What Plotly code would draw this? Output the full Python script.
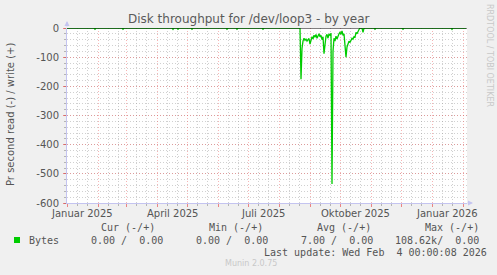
import pandas as pd
import plotly.graph_objects as go

# ---------------- data ----------------
period_start = "2025-01-01"
period_end = "2026-02-05"

# small isolated dips of the read rate (bytes/s), otherwise zero
dip_dates = ["2025-01-29", "2025-02-26", "2025-04-17", "2025-04-22", "2025-05-06",
             "2025-06-10", "2025-06-20", "2025-07-16", "2025-10-24", "2025-11-05",
             "2025-12-03", "2026-01-21"]
dip_values = [4, 4, 5, 4, 4, 4, 4, 4, 15, 4, 4, 5]

# busy period, daily read rate starting at burst_start
burst_start = "2025-08-22"
burst_values = [0, 176, 70, 45, 35, 42, 38, 45, 40, 36, 55, 40, 30, 38, 25, 32, 22, 35,
                28, 20, 30, 25, 40, 30, 88, 45, 28, 22, 35, 20, 25, 18, 535, 80, 35, 45,
                28, 38, 25, 20, 15, 22, 10, 25, 20, 60, 100, 65, 55, 45, 50, 40, 35, 38,
                30, 32, 15, 20, 10, 5, 0]

y_tick_vals = [0, -100, -200, -300, -400, -500, -600]
y_tick_text = ["0", "-100", "-200", "-300", "-400", "-500", "-600"]
x_label_dates = ["2025-01-16", "2025-04-16", "2025-07-16", "2025-10-16", "2026-01-16"]
x_label_text = ["Januar 2025", "April 2025", "Juli 2025", "Oktober 2025", "Januar 2026"]

legend_headers = ["Cur (-/+)", "Min (-/+)", "Avg (-/+)", "Max (-/+)"]
legend_values = ["0.00 /  0.00", "0.00 /  0.00", "7.00 /  0.00", "108.62k/  0.00"]
last_update = "Last update: Wed Feb  4 00:00:08 2026"

# ---------------- build series ----------------
days = pd.date_range("2025-01-01", "2026-02-04", freq="D")
read = pd.Series(0.0, index=days)
for d, v in zip(dip_dates, dip_values):
    read[pd.Timestamp(d)] = v
bidx = pd.date_range(burst_start, periods=len(burst_values), freq="D")
read[bidx] = burst_values

# ---------------- layout geometry ----------------
W, H = 497, 275
L, R, T, B = 67, 467, 28, 203


def px(x):
    return (x - L) / (R - L)


def py(y):
    return (B - y) / (B - T)


txt = "#555555"
font = "DejaVu Sans"
mono = "DejaVu Sans Mono"
nb = lambda s: s.replace(" ", "\u00a0")

red_grid = "rgba(235,90,90,0.45)"
gray_grid = "rgba(150,150,150,0.45)"

fig = go.Figure()
fig.add_trace(go.Scatter(x=read.index, y=-read.values, mode="lines",
                         line=dict(color="#00CC00", width=1.3), hoverinfo="skip",
                         showlegend=False))

month_starts = pd.date_range("2025-01-01", "2026-02-01", freq="MS")
minor_vals = []
for m in month_starts:
    for off in (10, 20):
        minor_vals.append(m + pd.Timedelta(days=off))

fig.update_layout(
    width=W, height=H,
    margin=dict(l=L, r=W - R, t=T, b=H - B),
    paper_bgcolor="#F0F0F0", plot_bgcolor="#FFFFFF",
    font=dict(family=font, size=10, color=txt),
    showlegend=False,
    xaxis=dict(
        type="date", range=[period_start, period_end],
        tickmode="array", tickvals=list(month_starts), ticktext=[""] * len(month_starts),
        showgrid=True, gridcolor=red_grid, griddash="1px,2px", gridwidth=1,
        ticks="outside", ticklen=3, tickcolor="rgba(230,60,60,0.6)",
        minor=dict(tickmode="array", tickvals=minor_vals, showgrid=True,
                   gridcolor=gray_grid, griddash="1px,2px",
                   ticks="outside", ticklen=2, tickcolor="rgba(140,140,140,0.6)"),
        showline=True, linecolor="#C4C4F0", linewidth=1, zeroline=False,
        fixedrange=True,
    ),
    yaxis=dict(
        range=[-600, 0], tickmode="array", tickvals=y_tick_vals, ticktext=y_tick_text,
        showgrid=True, gridcolor=red_grid, griddash="1px,2px",
        ticks="outside", ticklen=3, tickcolor="rgba(230,60,60,0.6)",
        minor=dict(dtick=20, showgrid=True, gridcolor=gray_grid,
                   griddash="1px,2px", ticks="outside", ticklen=2,
                   tickcolor="rgba(140,140,140,0.6)"),
        showline=True, linecolor="#C4C4F0", linewidth=1, zeroline=False,
        tickfont=dict(family=font, size=10, color=txt), ticklabelstandoff=2,
        fixedrange=True,
    ),
)

# zero rule drawn on top (black)
fig.add_shape(type="line", xref="paper", yref="y", x0=0, x1=1, y0=0, y1=0,
              line=dict(color="#000000", width=1), layer="above")

ann = []
# title
ann.append(dict(text="Disk throughput for /dev/loop3 - by year", x=px(248.5), y=py(19),
                xanchor="center", yanchor="middle", font=dict(size=12, color="#5a5a5a")))
# y title
ann.append(dict(text="Pr second read (-) / write (+)", x=px(10), y=py(115), textangle=-90,
                xanchor="center", yanchor="middle", font=dict(size=10, color=txt)))
# rrdtool credit
ann.append(dict(text="RRDTOOL / TOBI OETIKER", x=px(489), y=py(55), textangle=90,
                xanchor="center", yanchor="middle", font=dict(size=8, color="#C8C8C8")))
# x labels
for d, t in zip(x_label_dates, x_label_text):
    ann.append(dict(text=t, x=d, xref="x", y=py(213), xanchor="center", yanchor="middle",
                    font=dict(size=10, color=txt)))
# legend
hx = [99, 207, 315, 423]
vx = [89, 194, 299, 393]
for h, x in zip(legend_headers, hx):
    ann.append(dict(text=nb(h), x=px(x), y=py(227), xanchor="left", yanchor="middle",
                    font=dict(family=mono, size=10, color=txt)))
for v, x in zip(legend_values, vx):
    ann.append(dict(text=nb(v), x=px(x), y=py(240), xanchor="left", yanchor="middle",
                    font=dict(family=mono, size=10, color=txt)))
ann.append(dict(text="Bytes", x=px(27), y=py(240), xanchor="left", yanchor="middle",
                font=dict(family=mono, size=10, color=txt)))
ann.append(dict(text=nb(last_update), x=px(262), y=py(253), xanchor="left", yanchor="middle",
                font=dict(family=mono, size=10, color=txt)))
ann.append(dict(text="Munin 2.0.75", x=px(223), y=py(263), xanchor="left", yanchor="middle",
                font=dict(family=font, size=8, color="#C8C8C8")))
# axis arrows
ann.append(dict(text="", x=px(67), y=py(21), ax=0, ay=7, showarrow=True, arrowhead=2,
                arrowsize=1, arrowwidth=1, arrowcolor="#C4C4F0"))
ann.append(dict(text="", x=px(473), y=py(203), ax=-7, ay=0, showarrow=True, arrowhead=2,
                arrowsize=1, arrowwidth=1, arrowcolor="#C4C4F0"))
for a in ann:
    a.setdefault("xref", "paper")
    a.setdefault("yref", "paper")
    a.setdefault("showarrow", False)
    fig.add_annotation(**a)

# legend colour box
fig.add_shape(type="rect", xref="paper", yref="paper", x0=px(14), x1=px(20), y0=py(243),
              y1=py(237), fillcolor="#00CC00", line=dict(width=0))

fig.write_html("out.html")
